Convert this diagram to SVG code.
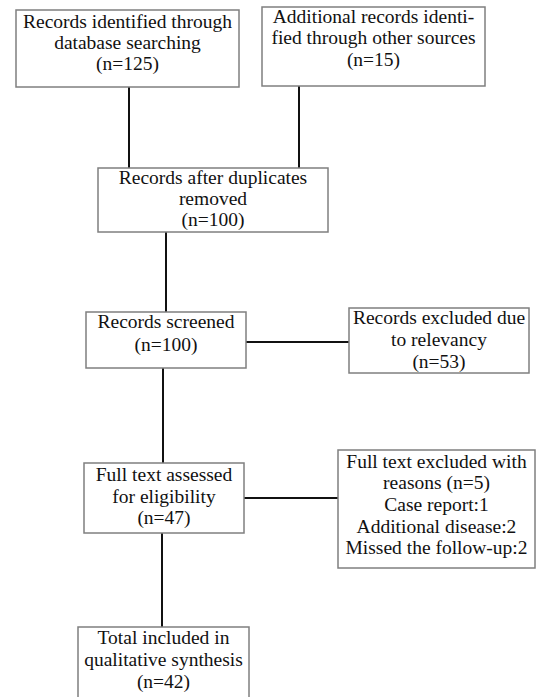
<svg xmlns="http://www.w3.org/2000/svg" width="540" height="697" viewBox="0 0 540 697">
<style>
.box{fill:#fff;stroke:#7f7f7f;stroke-width:1.5}
.t{font-family:"Liberation Serif","Times New Roman",serif;font-size:19.5px;fill:#111;text-anchor:middle}
.c{stroke:#111;stroke-width:2;fill:none}
</style>
<rect width="540" height="697" fill="#fff"/>
<g id="connectors">
<line class="c" x1="129" y1="87" x2="129" y2="168"/>
<line class="c" x1="299" y1="86" x2="299" y2="168"/>
<line class="c" x1="166" y1="232" x2="166" y2="312"/>
<line class="c" x1="246" y1="342" x2="349" y2="342"/>
<line class="c" x1="163" y1="368" x2="163" y2="463"/>
<line class="c" x1="244" y1="498" x2="338" y2="498"/>
<line class="c" x1="162" y1="533" x2="162" y2="627"/>
</g>
<g id="n1">
<rect class="box" x="16" y="10" width="223" height="77"/>
<text class="t" x="127.5" y="28">Records identified through</text>
<text class="t" x="127.5" y="49">database searching</text>
<text class="t" x="127.5" y="70">(n=125)</text>
</g>
<g id="n2">
<rect class="box" x="262" y="7" width="223" height="79"/>
<text class="t" x="373.5" y="23">Additional records identi-</text>
<text class="t" x="373.5" y="44">fied through other sources</text>
<text class="t" x="373.5" y="66">(n=15)</text>
</g>
<g id="n3">
<rect class="box" x="98" y="168" width="230" height="64"/>
<text class="t" x="213" y="184">Records after duplicates</text>
<text class="t" x="213" y="205">removed</text>
<text class="t" x="213" y="226">(n=100)</text>
</g>
<g id="n4">
<rect class="box" x="86" y="312" width="160" height="56"/>
<text class="t" x="166" y="328">Records screened</text>
<text class="t" x="166" y="351">(n=100)</text>
</g>
<g id="n5">
<rect class="box" x="349" y="308" width="180" height="65"/>
<text class="t" x="439" y="324">Records excluded due</text>
<text class="t" x="439" y="346">to relevancy</text>
<text class="t" x="439" y="368">(n=53)</text>
</g>
<g id="n6">
<rect class="box" x="84" y="463" width="160" height="70"/>
<text class="t" x="164" y="481">Full text assessed</text>
<text class="t" x="164" y="503">for eligibility</text>
<text class="t" x="164" y="524">(n=47)</text>
</g>
<g id="n7">
<rect class="box" x="338" y="450" width="197" height="118"/>
<text class="t" x="436.5" y="468">Full text excluded with</text>
<text class="t" x="436.5" y="489">reasons (n=5)</text>
<text class="t" x="436.5" y="511">Case report:1</text>
<text class="t" x="436.5" y="533">Additional disease:2</text>
<text class="t" x="436.5" y="554">Missed the follow-up:2</text>
</g>
<g id="n8">
<rect class="box" x="78" y="627" width="171" height="80"/>
<text class="t" x="163.5" y="644">Total included in</text>
<text class="t" x="163.5" y="666">qualitative synthesis</text>
<text class="t" x="163.5" y="688">(n=42)</text>
</g>
</svg>
